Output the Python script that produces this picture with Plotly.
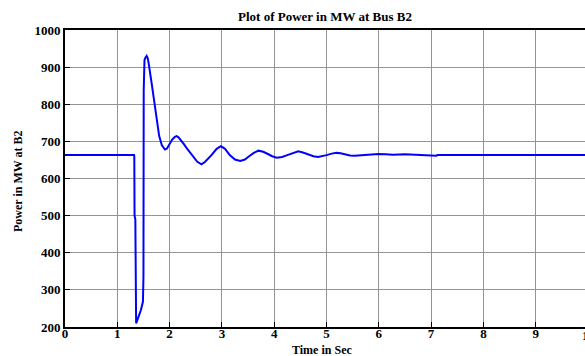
import plotly.graph_objects as go

time_s = [0.0, 1.32, 1.325, 1.33, 1.345, 1.36, 1.40, 1.45, 1.49, 1.50, 1.505, 1.52, 1.54, 1.56, 1.58, 1.60,
          1.657, 1.70, 1.753, 1.80, 1.85, 1.88, 1.91, 1.95, 1.98, 2.05, 2.10, 2.135, 2.17, 2.2, 2.27, 2.33, 2.45,
          2.53, 2.61, 2.68, 2.8, 2.9, 2.98, 3.06, 3.15, 3.25, 3.35, 3.44, 3.52, 3.61, 3.70, 3.79, 3.88, 3.96,
          4.05, 4.15, 4.25, 4.36, 4.46, 4.55, 4.65, 4.75, 4.84, 4.92, 5.0, 5.1, 5.19, 5.27, 5.35, 5.45, 5.54,
          5.65, 5.75, 5.87, 5.99, 6.13, 6.27, 6.5, 6.9, 6.94, 7.1, 7.12, 10.0]
power_mw = [663, 663, 660, 500, 490, 210, 225, 245, 268, 335, 838, 919, 926, 930, 925, 910,
            856, 810, 757, 715, 690, 682, 678, 681, 688, 705, 712, 714, 711, 706, 693, 681, 660,
            645, 638, 645, 663, 680, 687, 680, 663, 651, 647, 651, 660, 669, 675, 672, 666, 660,
            656, 658, 663, 669, 673, 670, 665, 660, 658, 660, 663, 667, 669, 668, 665, 662, 661,
            662, 663, 665, 666, 665, 664, 665, 663, 661, 661, 663, 663]

x_ticks = [0, 1, 2, 3, 4, 5, 6, 7, 8, 9]
y_ticks = [200, 300, 400, 500, 600, 700, 800, 900, 1000]

font_serif = "Liberation Serif"

fig = go.Figure()
fig.add_trace(go.Scatter(x=time_s, y=power_mw, mode="lines",
                         line=dict(color="#0000ff", width=2), showlegend=False))

fig.update_layout(
    width=585, height=356,
    margin=dict(l=65, r=0, t=30, b=29),
    paper_bgcolor="white", plot_bgcolor="white",
    font=dict(family=font_serif, size=13, color="black"),
    xaxis=dict(range=[0, 520 / 52.3], tickvals=x_ticks, ticktext=[f"<b>{v}</b>" for v in x_ticks],
               showgrid=True, gridcolor="#949494", gridwidth=1,
               showline=True, linecolor="black", linewidth=2, mirror=True,
               ticks="inside", ticklen=5, tickcolor="black", zeroline=False,
               ticklabelstandoff=-7),
    yaxis=dict(range=[200, 1000], tickvals=y_ticks, ticktext=[f"<b>{v}</b>" for v in y_ticks],
               showgrid=True, gridcolor="#949494", gridwidth=1,
               showline=True, linecolor="black", linewidth=2, mirror=False,
               ticks="inside", ticklen=5, tickcolor="black", zeroline=False),
    annotations=[
        dict(text="<b>Plot of Power in MW at Bus B2</b>", xref="paper", yref="paper",
             x=0.5, y=1.0438, xanchor="center", yanchor="middle", showarrow=False,
             font=dict(family=font_serif, size=13)),
        dict(text="<b>Time in Sec</b>", xref="paper", yref="paper",
             x=0.494, y=-0.0774, xanchor="center", yanchor="middle", showarrow=False,
             font=dict(family=font_serif, size=12)),
        dict(text="<b>Power in MW at B2</b>", xref="paper", yref="paper",
             x=-0.0904, y=0.4916, xanchor="center", yanchor="middle", showarrow=False,
             textangle=-90, font=dict(family=font_serif, size=12)),
        dict(text="<b>10</b>", xref="paper", yref="paper",
             x=(588 - 65) / 520, y=-0.0286, xanchor="center", yanchor="middle", showarrow=False,
             font=dict(family=font_serif, size=13)),
    ],
)

fig.write_html("out.html")
